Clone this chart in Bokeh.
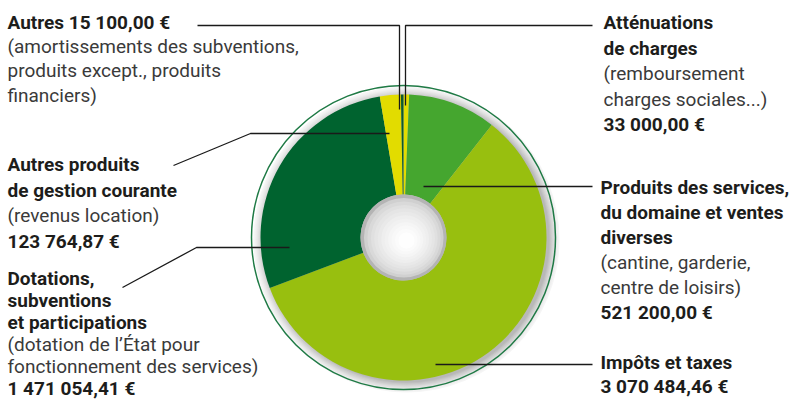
import numpy as np
from bokeh.plotting import figure
from bokeh.models import Range1d, ColumnDataSource
from bokeh.core.properties import value
from bokeh.embed import file_html
from bokeh.resources import INLINE

# ---- data ----
categories = ["Atténuations de charges",
              "Produits des services, du domaine et ventes diverses",
              "Impôts et taxes",
              "Dotations, subventions et participations",
              "Autres produits de gestion courante",
              "Autres"]
amounts = [33000.00, 521200.00, 3070484.46, 1471054.41, 123764.87, 15100.00]
slice_colors = ["#e2dc00", "#45a62f", "#98bf0f", "#00632f", "#e2dc00", "#0d5a2c"]

W, H = 793, 401
FONT = "Roboto"
BOLD_C = "#1d1d1b"
REG_C = "#3a3a3a"

p = figure(width=W, height=H, output_backend="svg", toolbar_location=None,
           x_range=Range1d(0, W), y_range=Range1d(0, H), min_border=0)
p.axis.visible = False
p.grid.visible = False
p.outline_line_color = None
p.background_fill_color = "white"
p.border_fill_color = "white"


def Y(y):  # screen-from-top -> data
    return H - y

cx, cy = 403, Y(237)
R_OUT, R_IN, R_RING = 143, 43, 152

# shadow between pie and ring
shadow_steps = 10
for i in range(shadow_steps):
    t = i / (shadow_steps - 1)
    r = R_RING + 1 - t * (R_RING + 1 - R_OUT)
    g = int(0xf6 - (0xf6 - 0xb8) * t ** 1.3)
    p.circle(x=[cx + 3], y=[cy - 2], radius=r, radius_units="screen",
             fill_color="#%02x%02x%02x" % (g, g, g), line_color=None)
# outer ring
p.circle(x=[cx], y=[cy], radius=R_RING, radius_units="screen",
         fill_color=None, line_color="#1f7a45", line_width=1.5)

# slices
vals = np.array(amounts)
frac = vals / vals.sum()
cum = np.concatenate([[0], np.cumsum(frac)])
starts = np.pi / 2 - cum[:-1] * 2 * np.pi
ends = np.pi / 2 - cum[1:] * 2 * np.pi
src = ColumnDataSource(dict(cat=categories, start=starts, end=ends, color=slice_colors))
p.annular_wedge(x=cx, y=cy, inner_radius=R_IN, outer_radius=R_OUT,
                inner_radius_units="screen", outer_radius_units="screen",
                start_angle="start", end_angle="end", direction="clock",
                fill_color="color", line_color=None, source=src)

# hole with soft shading (gray rim fading to white)
hole_steps = 12
for i in range(hole_steps):
    t = i / (hole_steps - 1)
    r = R_IN - t * (R_IN - 8)
    g = int(0xb4 + (0xfe - 0xb4) * (t ** 0.4))
    p.circle(x=[cx + 3 * t], y=[cy - 3 * t], radius=r, radius_units="screen",
             fill_color="#%02x%02x%02x" % (g, g, g), line_color=None)

# leader lines (layout)
leaders = [
    ([197, 399, 399], [25, 25, 109]),
    ([592, 405, 405], [25, 25, 105]),
    ([173, 250, 389], [165, 133, 133]),
    ([122, 196, 289], [287, 247, 247]),
    ([423, 592], [186, 186]),
    ([435, 592], [364, 364]),
]
for xs, ys in leaders:
    p.line(x=xs, y=[Y(v) for v in ys], line_color="#1a1a1a", line_width=1.3)

# labels: (x, y_first, line_height, [(text, bold), ...])
blocks = [
    (7, 22, 24.2, [("Autres 15 100,00 €", True),
                   ("(amortissements des subventions,", False),
                   ("produits except., produits", False),
                   ("financiers)", False)]),
    (603, 22, 25.5, [("Atténuations", True), ("de charges", True),
                     ("(remboursement", False), ("charges sociales...)", False),
                     ("33 000,00 €", True)]),
    (7, 164, 25.7, [("Autres produits", True), ("de gestion courante", True),
                    ("(revenus location)", False), ("123 764,87 €", True)]),
    (7, 278, 22.0, [("Dotations,", True), ("subventions", True),
                    ("et participations", True), ("(dotation de l’État pour", False),
                    ("fonctionnement des services)", False), ("1 471 054,41 €", True)]),
    (600, 187, 25, [("Produits des services,", True), ("du domaine et ventes", True),
                    ("diverses", True), ("(cantine, garderie,", False),
                    ("centre de loisirs)", False), ("521 200,00 €", True)]),
    (600, 362, 24, [("Impôts et taxes", True), ("3 070 484,46 €", True)]),
]
for bx, by, lh, lines in blocks:
    for k, (txt, bold) in enumerate(lines):
        p.text(x=[bx], y=[Y(by + k * lh)], text=[txt],
               text_font=value(FONT), text_font_size="19px",
               text_font_style="bold" if bold else "normal",
               text_color=BOLD_C if bold else REG_C,
               text_align="left", text_baseline="middle")

open("out.html", "w").write(file_html(p, INLINE))
